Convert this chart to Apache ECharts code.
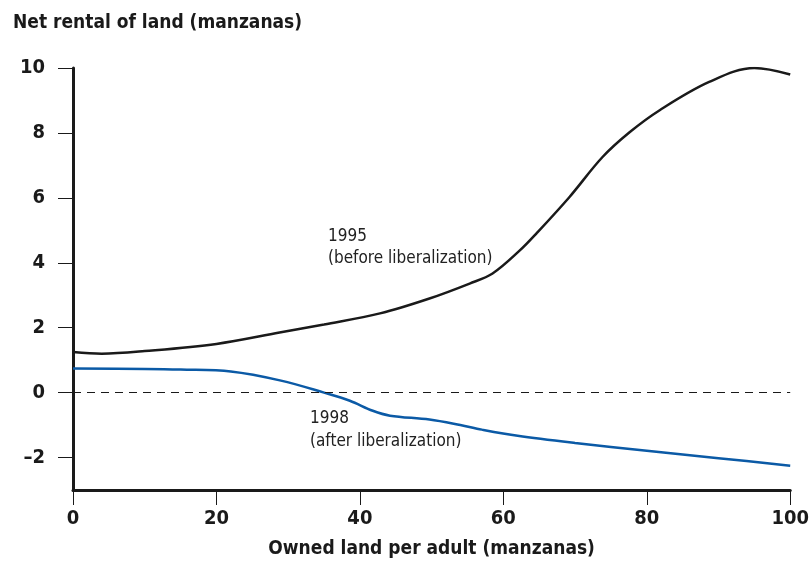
<!DOCTYPE html>
<html>
<head>
<meta charset="utf-8">
<script src="https://cdn.jsdelivr.net/npm/echarts@6/dist/echarts.min.js"></script>
<style>
  html, body { margin: 0; padding: 0; background: #fff; }
  #chart { width: 812px; height: 571px; }
</style>
</head>
<body>
<div id="chart"></div>
<script>
// owned land per adult (manzanas) -> net rental of land (manzanas)
const x1995 = [0, 4, 10, 20, 28.8, 35, 42.8, 49.7, 55.3, 58.5, 62.3, 64.6, 69.2, 73.8, 77.6, 81.8, 88.7, 95, 100];
const y1995 = [1.25, 1.2, 1.28, 1.5, 1.85, 2.1, 2.44, 2.9, 3.36, 3.67, 4.38, 4.9, 6.02, 7.25, 8.02, 8.7, 9.57, 10.0, 9.8];
const x1998 = [0, 10, 15, 22, 29, 35, 38.6, 41.8, 44.2, 49.7, 54, 57, 62, 70, 80, 90, 100];
const y1998 = [0.74, 0.73, 0.71, 0.65, 0.37, 0, -0.25, -0.56, -0.71, -0.83, -1.0, -1.14, -1.33, -1.55, -1.79, -2.02, -2.25];
const yTicks = [-2, 0, 2, 4, 6, 8, 10];

const pairs = (xs, ys) => xs.map((x, i) => [x, ys[i]]);

const FONT = '"DejaVu Sans Condensed", "Liberation Sans Narrow", sans-serif';

const chart = echarts.init(document.getElementById('chart'));

const option = {
  animation: false,
  grid: { left: 73, right: 21, top: 68, bottom: 81 },
  title: {
    text: 'Net rental of land (manzanas)',
    left: 8,
    top: 9,
    textStyle: { fontFamily: FONT, fontWeight: 'bold', fontSize: 19, color: '#1a1a1a' },
  },
  xAxis: {
    type: 'value',
    min: 0,
    max: 100,
    interval: 20,
    name: 'Owned land per adult (manzanas)',
    nameLocation: 'middle',
    nameGap: 50,
    nameTextStyle: { fontFamily: FONT, fontWeight: 'bold', fontSize: 19, color: '#1a1a1a' },
    axisLine: { onZero: false, lineStyle: { color: '#1a1a1a', width: 3 } },
    axisTick: { length: 15, lineStyle: { color: '#1a1a1a', width: 1 } },
    axisLabel: { fontFamily: FONT, fontWeight: 'bold', fontSize: 20, color: '#1a1a1a', margin: 19 },
    splitLine: { show: false },
  },
  yAxis: {
    type: 'value',
    min: -3,
    max: 10,
    axisLine: { show: true, onZero: false, lineStyle: { color: '#1a1a1a', width: 3 } },
    axisTick: { show: true, length: 15, customValues: yTicks, lineStyle: { color: '#1a1a1a', width: 1 } },
    axisLabel: {
      fontFamily: FONT, fontWeight: 'bold', fontSize: 20, color: '#1a1a1a', margin: 28,
      customValues: yTicks,
      formatter: v => (v < 0 ? '\u2013' + Math.abs(v) : String(v)),
    },
    splitLine: { show: false },
  },
  series: [
    {
      name: '1995',
      type: 'line',
      data: pairs(x1995, y1995),
      smooth: 0.35,
      showSymbol: false,
      lineStyle: { color: '#1a1a1a', width: 2.5 },
      z: 3,
      markLine: {
        silent: true,
        symbol: 'none',
        label: { show: false },
        lineStyle: { color: '#1a1a1a', width: 1, type: [8, 6] },
        data: [{ yAxis: 0 }],
      },
    },
    {
      name: '1998',
      type: 'line',
      data: pairs(x1998, y1998),
      smooth: 0.35,
      showSymbol: false,
      lineStyle: { color: '#0b5aa6', width: 2.5 },
      z: 3,
    },
  ],
  graphic: [
    {
      type: 'text', left: 328, top: 226,
      style: { text: '1995\n(before liberalization)', font: '17px ' + FONT, fill: '#222', lineHeight: 22 },
    },
    {
      type: 'text', left: 310, top: 407,
      style: { text: '1998\n(after liberalization)', font: '17px ' + FONT, fill: '#222', lineHeight: 23 },
    },
  ],
};

chart.setOption(option);
window.addEventListener('resize', chart.resize);
</script>
</body>
</html>
